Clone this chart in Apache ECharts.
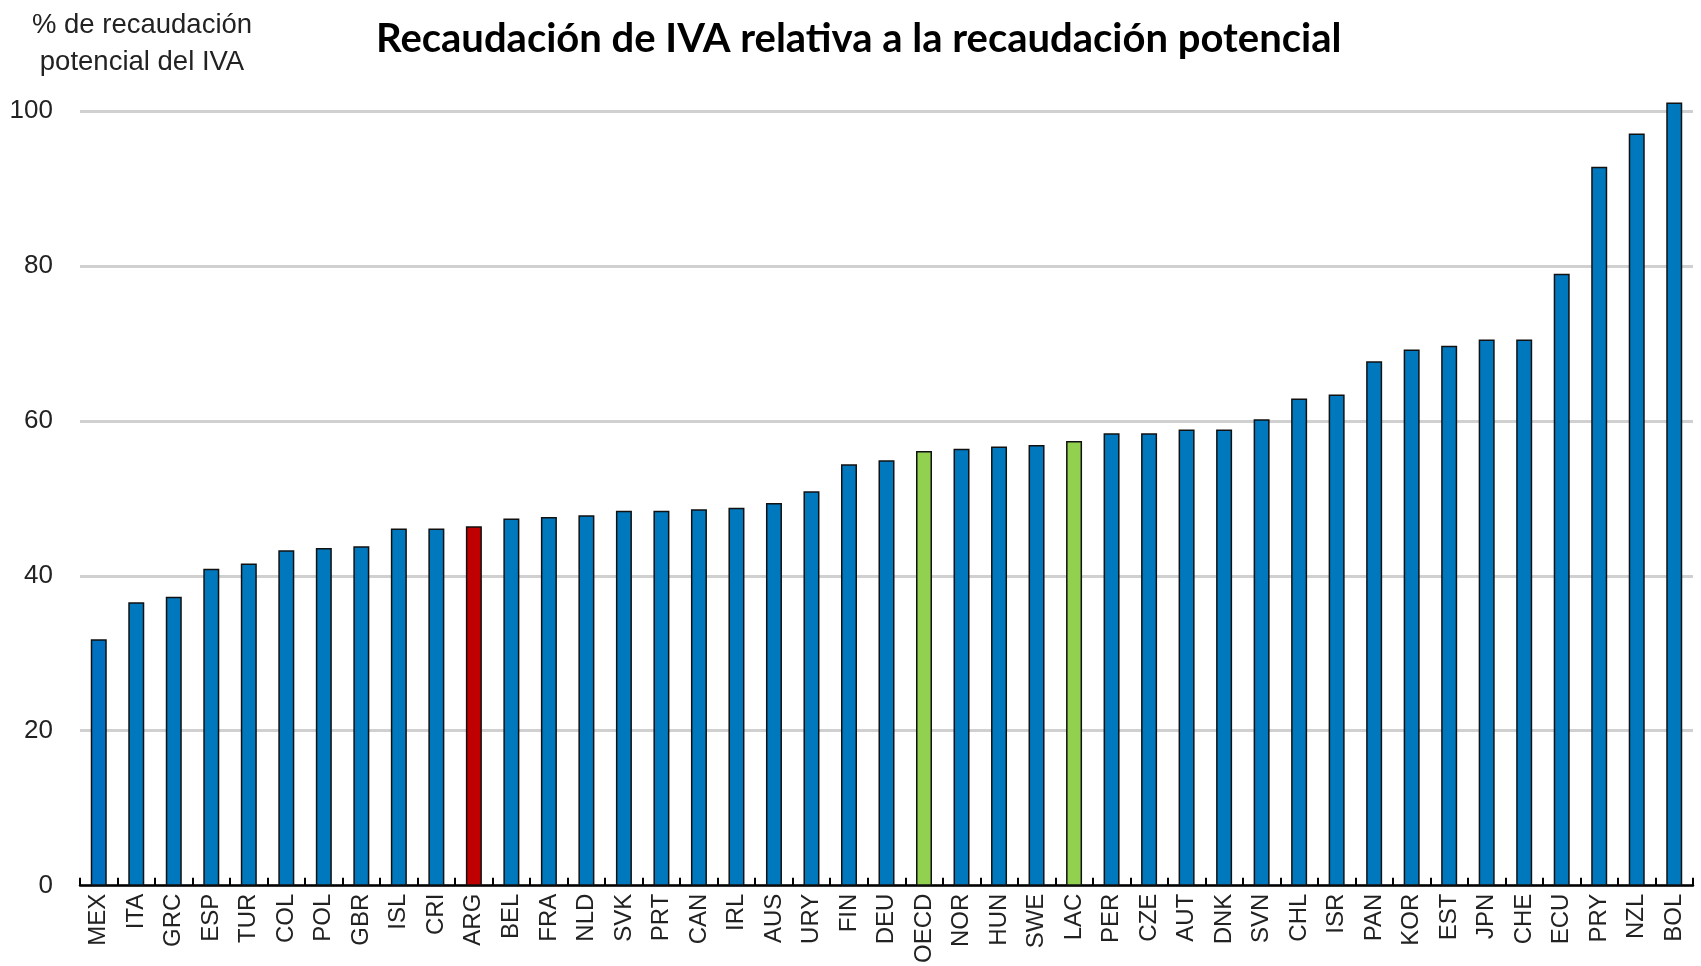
<!DOCTYPE html>
<html>
<head>
<meta charset="utf-8">
<script src="https://cdn.jsdelivr.net/npm/echarts@6/dist/echarts.min.js"></script>
<style>
  html, body { margin: 0; padding: 0; background: #fff; }
  #chart { width: 1701px; height: 966px; }
</style>
</head>
<body>
<div id="chart"></div>
<script>
const countries = ['MEX','ITA','GRC','ESP','TUR','COL','POL','GBR','ISL','CRI','ARG','BEL','FRA','NLD','SVK','PRT','CAN','IRL','AUS','URY','FIN','DEU','OECD','NOR','HUN','SWE','LAC','PER','CZE','AUT','DNK','SVN','CHL','ISR','PAN','KOR','EST','JPN','CHE','ECU','PRY','NZL','BOL'];
const vatRatio = [31.8,36.6,37.3,40.9,41.6,43.3,43.6,43.8,46.1,46.1,46.4,47.4,47.6,47.8,48.4,48.4,48.6,48.8,49.4,50.9,54.4,54.9,56.1,56.4,56.7,56.9,57.4,58.4,58.4,58.9,58.9,60.2,62.9,63.4,67.7,69.2,69.7,70.5,70.5,79.0,92.8,97.1,101.1];
const yTicks = [0, 20, 40, 60, 80, 100];

// highlighted bars
const special = { MEX: '#0070C0', ARG: '#C00000', OECD: '#92D050', LAC: '#92D050' };
const baseBlue = '#0078BE';

const chart = echarts.init(document.getElementById('chart'), null, { renderer: 'canvas' });

chart.setOption({
  backgroundColor: '#fff',
  animation: false,
  title: [
    { text: 'Recaudación de IVA relativa a la recaudación potencial', left: 371, top: 14,
      textStyle: { fontFamily: 'Lato', fontWeight: 'bold', fontSize: 40, color: '#000' } },
    { text: '% de recaudación\npotencial del IVA', left: 137, top: 2, textAlign: 'center',
      textStyle: { fontFamily: 'Liberation Sans', fontWeight: 'normal', fontSize: 27.5, lineHeight: 37, color: '#222' } }
  ],
  grid: { left: 80, right: 8, top: 111, bottom: 79, containLabel: false },
  xAxis: {
    type: 'category',
    data: countries,
    axisLine: { lineStyle: { color: '#000', width: 2.5 } },
    axisTick: { show: true, inside: true, length: 8, alignWithLabel: false, lineStyle: { color: '#000', width: 2 } },
    axisLabel: { rotate: 90, interval: 0, margin: 8, fontFamily: 'Liberation Sans', fontSize: 24, color: '#222' }
  },
  yAxis: {
    type: 'value',
    min: yTicks[0],
    max: yTicks[yTicks.length - 1],
    interval: 20,
    axisLine: { show: false },
    axisTick: { show: false },
    axisLabel: { margin: 27, fontFamily: 'Liberation Sans', fontSize: 26, color: '#222' },
    splitLine: { lineStyle: { color: '#D0D0D0', width: 3 } }
  },
  series: [{
    type: 'bar',
    clip: false,
    barWidth: 16,
    data: vatRatio.map((v, i) => ({
      value: v,
      itemStyle: { color: special[countries[i]] || baseBlue }
    })),
    itemStyle: { borderColor: '#111', borderWidth: 1.5 }
  }]
});
</script>
</body>
</html>
